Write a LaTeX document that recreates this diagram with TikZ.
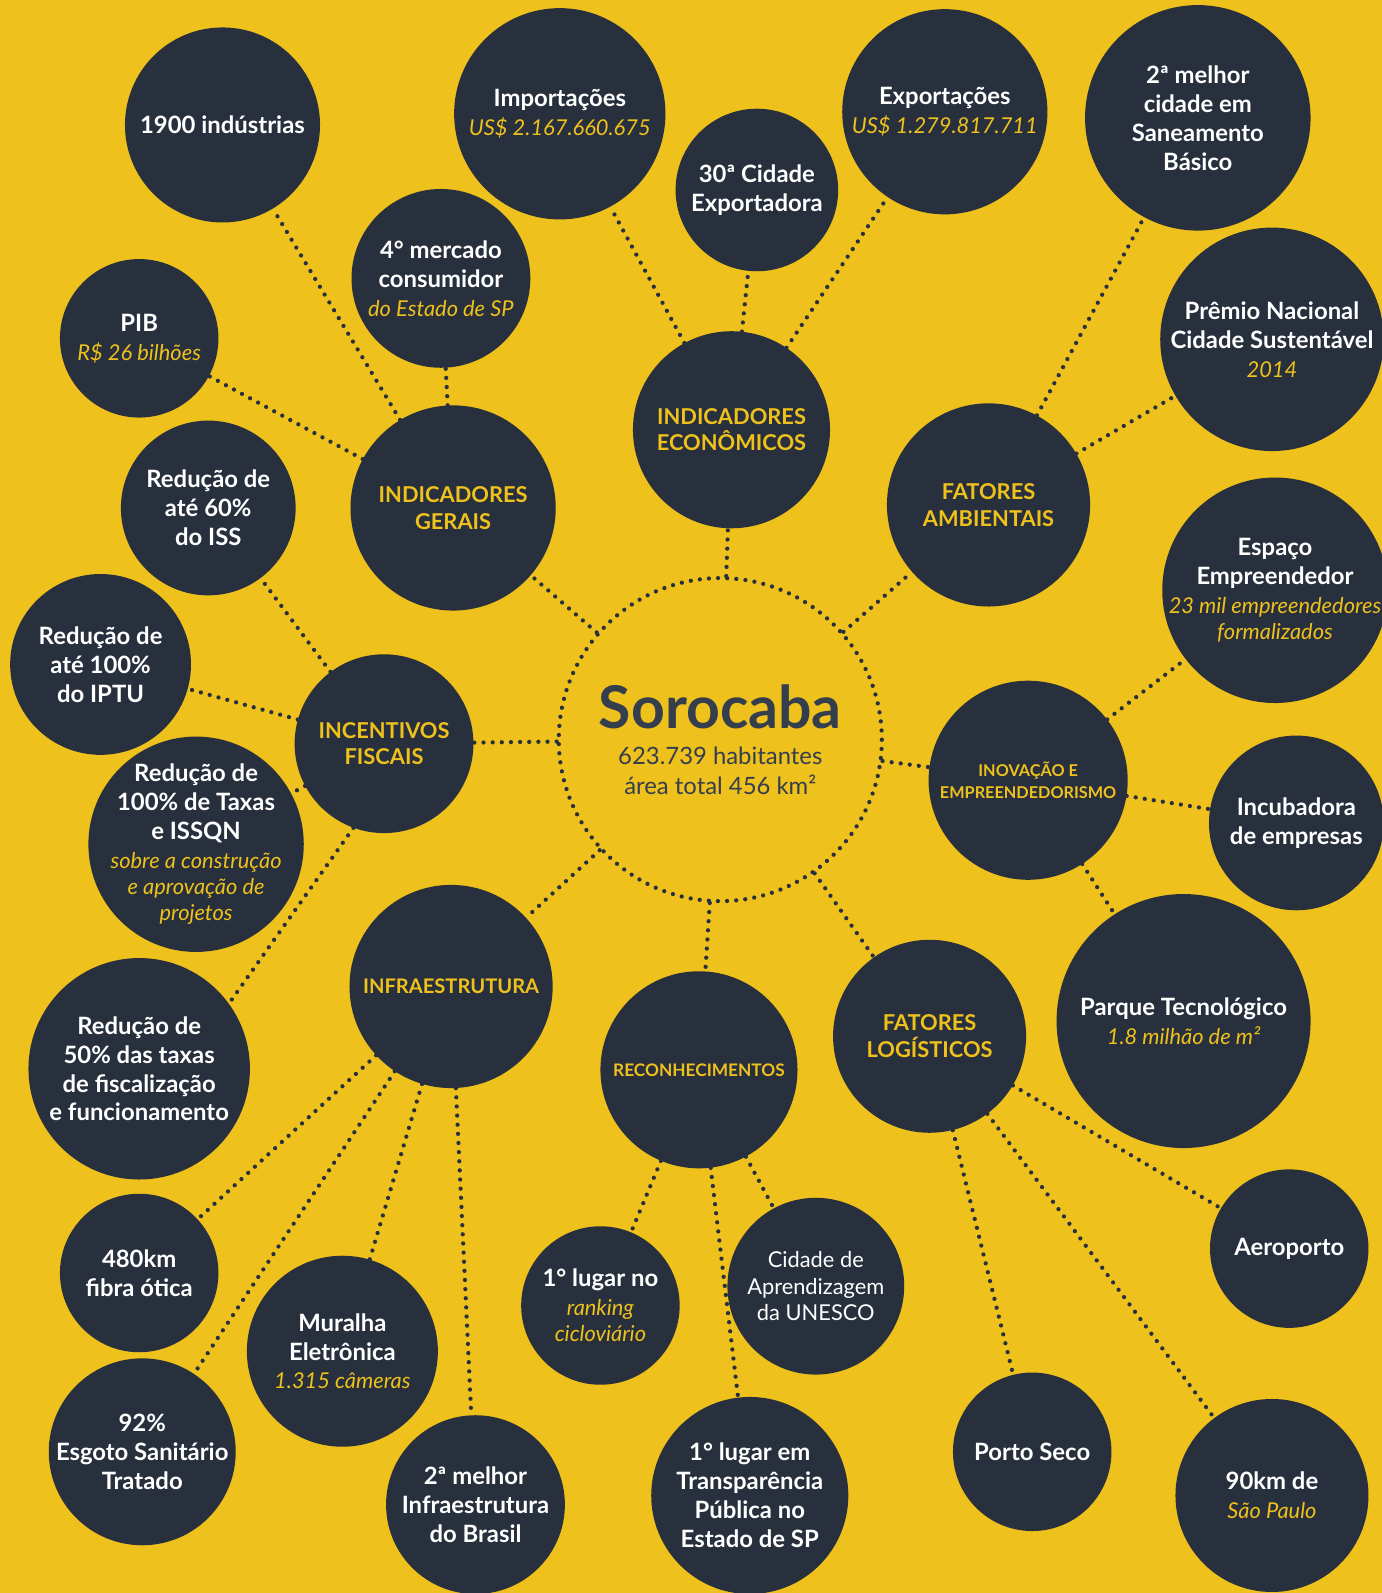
\documentclass[tikz,border=0pt]{standalone}
\usepackage{fontspec}
\setmainfont{Lato}
\usepackage{tikz}
\usetikzlibrary{shapes.geometric}
\definecolor{gold}{HTML}{EEC11C}
\definecolor{navy}{HTML}{28303D}
\definecolor{slate}{HTML}{343E4D}
\newcommand{\yel}[1]{{\color{gold}\mdseries\itshape\fontsize{21.5}{25}\selectfont #1}}

\begin{document}
\begin{tikzpicture}[x=1pt, y=-1pt,
  bubble/.style = {circle, fill=navy, text=white, align=center, inner sep=-20pt,
    font=\bfseries\fontsize{23.5}{28.5}\selectfont},
  hub/.style    = {bubble, text=gold, font=\bfseries\fontsize{21.5}{26}\selectfont},
  link/.style   = {draw=navy, line width=4.2pt, line cap=round,
    dash pattern=on 0pt off 9pt}]
  \useasboundingbox (0,0) rectangle (1360,1568);
  \fill[gold] (0,0) rectangle (1360,1568);

  % centre
  \node[circle, link, minimum size=318pt, align=center, text=slate,
    font=\fontsize{23.5}{29}\selectfont] (soro) at (709,728)
    {{\bfseries\fontsize{58}{58}\selectfont Sorocaba}\\[7pt]623.739 habitantes\\área total 456 km²};

  % themes
  \node[hub, minimum size=202pt] (ger) at (446,500) {INDICADORES\\GERAIS};
  \node[hub, minimum size=194pt] (eco) at (720,423) {INDICADORES\\ECONÔMICOS};
  \node[hub, minimum size=200pt] (amb) at (973,497) {FATORES\\AMBIENTAIS};
  \node[hub, minimum size=196pt, font=\bfseries\fontsize{16}{21}\selectfont] (ino) at (1012,768) {INOVAÇÃO E\\EMPREENDEDORISMO};
  \node[hub, minimum size=190pt] (log) at (915,1020) {FATORES\\LOGÍSTICOS};
  \node[hub, minimum size=194pt, font=\bfseries\fontsize{17}{21}\selectfont] (rec) at (688,1053) {RECONHECIMENTOS};
  \node[hub, minimum size=200pt, font=\bfseries\fontsize{19.8}{24}\selectfont] (inf) at (444,971) {INFRAESTRUTURA};
  \node[hub, minimum size=176pt] (inc) at (378,732) {INCENTIVOS\\FISCAIS};

  % indicadores gerais
  \node[bubble, minimum size=192pt] (ind) at (219,123) {1900 indústrias};
  \node[bubble, minimum size=176pt] (merc) at (434,274) {4° mercado\\consumidor\\ \yel{do Estado de SP}};
  \node[bubble, minimum size=156pt] (pib) at (137,333) {PIB\\ \yel{R\$ 26 bilhões}};

  % indicadores economicos
  \node[bubble, minimum size=208pt] (imp) at (551,112) {Importações\\ \yel{US\$ 2.167.660.675}};
  \node[bubble, minimum size=160pt] (exp30) at (745,187) {30ª Cidade\\Exportadora};
  \node[bubble, minimum size=202pt] (exp) at (930,110) {Exportações\\ \yel{US\$ 1.279.817.711}};

  % fatores ambientais
  \node[bubble, minimum size=222pt] (san) at (1179,116) {2ª melhor\\cidade em\\Saneamento\\Básico};
  \node[bubble, minimum size=220pt] (prem) at (1252,334) {Prêmio Nacional\\Cidade Sustentável\\ \yel{2014}};

  % inovacao
  \node[bubble, minimum size=222pt] (esp) at (1255,581) {Espaço\\Empreendedor\\ \yel{23 mil empreendedores}\\[-3pt] \yel{formalizados}};
  \node[bubble, minimum size=172pt] (incub) at (1276,810) {Incubadora\\de empresas};
  \node[bubble, minimum size=250pt] (pt) at (1165,1005) {Parque Tecnológico\\ \yel{1.8 milhão de m²}};

  % logistica
  \node[bubble, minimum size=156pt] (aero) at (1269,1229) {Aeroporto};
  \node[bubble, minimum size=190pt] (sp90) at (1252,1472) {90km de\\ \yel{São Paulo}};
  \node[bubble, minimum size=156pt] (ps) at (1016,1429) {Porto Seco};

  % reconhecimentos
  \node[bubble, minimum size=194pt] (transp) at (738,1472) {1° lugar em\\Transparência\\Pública no\\Estado de SP};
  \node[bubble, minimum size=174pt, font=\fontsize{21.5}{26}\selectfont] (unesco) at (803,1266) {Cidade de\\Aprendizagem\\da UNESCO};
  \node[bubble, minimum size=156pt] (cic) at (591,1285) {1° lugar no\\ \yel{ranking}\\[-3pt] \yel{cicloviário}};

  % infraestrutura
  \node[bubble, minimum size=176pt] (infbr) at (468,1481) {2ª melhor\\Infraestrutura\\do Brasil};
  \node[bubble, minimum size=188pt] (mur) at (337,1330) {Muralha\\Eletrônica\\ \yel{1.315 câmeras}};
  \node[bubble, minimum size=184pt] (esg) at (140,1429) {92\%\\Esgoto Sanitário\\Tratado};
  \node[bubble, minimum size=156pt] (fib) at (137,1253) {480km\\fibra ótica};

  % incentivos fiscais
  \node[bubble, minimum size=172pt] (iss) at (205,500) {Redução de\\até 60\%\\do ISS};
  \node[bubble, minimum size=178pt] (iptu) at (99,654) {Redução de\\até 100\%\\do IPTU};
  \node[bubble, minimum size=212pt] (tax) at (193,831) {Redução de\\100\% de Taxas\\e ISSQN\\ \yel{sobre a construção}\\[-3pt] \yel{e aprovação de}\\[-3pt] \yel{projetos}};
  \node[bubble, minimum size=218pt] (fisc) at (137,1052) {Redução de\\50\% das taxas\\de fiscalização\\e funcionamento};

  % links
  \foreach \th in {ger,eco,amb,ino,log,rec,inf,inc}
    \draw[link] (soro) -- (\th);
  \foreach \th/\lf in {ger/ind, ger/merc, ger/pib, eco/imp, eco/exp30, eco/exp,
      amb/san, amb/prem, ino/esp, ino/incub, ino/pt, log/aero, log/sp90, log/ps,
      rec/cic, rec/transp, rec/unesco, inf/fib, inf/esg, inf/mur, inf/infbr,
      inc/iss, inc/iptu, inc/tax}
    \draw[link] (\th) -- (\lf);
  \draw[link] (inc.250) -- (fisc.36);
\end{tikzpicture}
\end{document}
